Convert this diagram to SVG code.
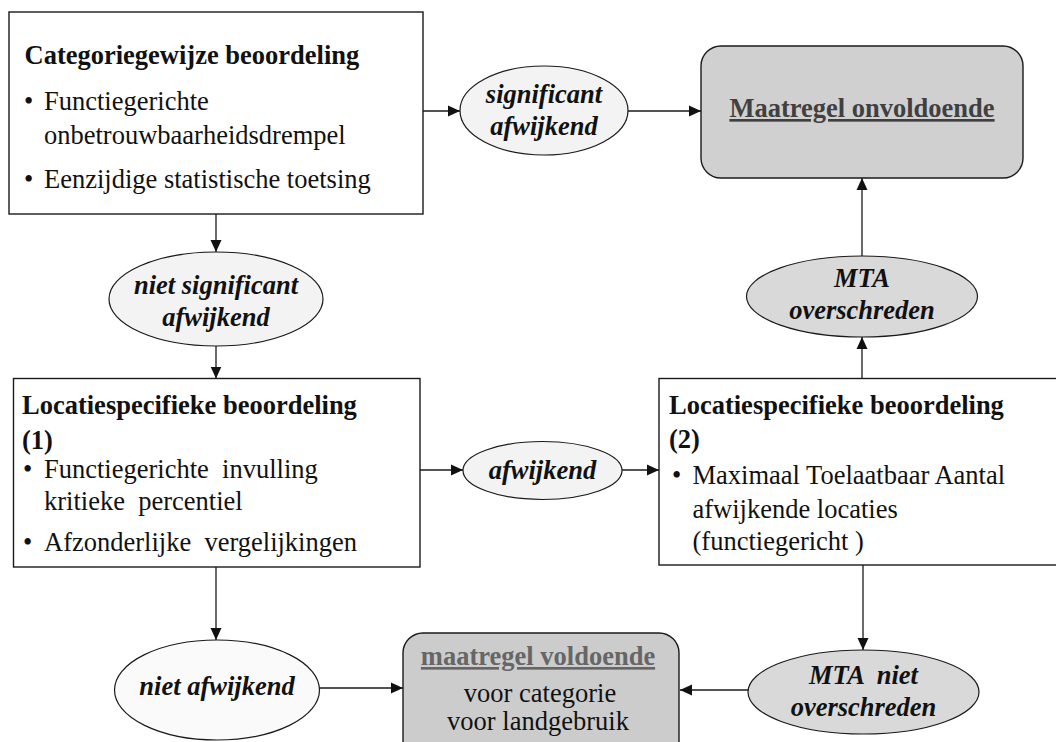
<svg xmlns="http://www.w3.org/2000/svg" width="1056" height="742" viewBox="0 0 1056 742">
<style>
.box{fill:#fff;stroke:#1a1a1a;stroke-width:1.4}
.gbox{fill:#d0d0d0;stroke:#1a1a1a;stroke-width:1.4}
.ell{fill:#f3f3f3;stroke:#1a1a1a;stroke-width:1.2}
.gell{fill:#d9d9d9;stroke:#1a1a1a;stroke-width:1.2}
.t{font-family:'Liberation Serif','Times New Roman',serif;font-size:26.5px;fill:#111}
.b{font-weight:bold}
.bi{font-weight:bold;font-style:italic}
.c{text-anchor:middle}
.u{text-decoration:underline}
.con{stroke:#1a1a1a;stroke-width:1.3;fill:none;marker-end:url(#ah)}
</style>
<defs>
<marker id="ah" markerUnits="userSpaceOnUse" markerWidth="13" markerHeight="12" refX="12" refY="6" orient="auto">
<path d="M0,0.5 L12,6 L0,11.5 Z" fill="#111"/>
</marker>
</defs>
<rect width="1056" height="742" fill="#fff"/>
<g id="connectors">
<line class="con" x1="423" y1="111" x2="460" y2="111"/>
<line class="con" x1="628" y1="111" x2="701" y2="111"/>
<line class="con" x1="216" y1="214" x2="216" y2="252"/>
<line class="con" x1="216" y1="346" x2="216" y2="378.5"/>
<line class="con" x1="420" y1="470" x2="463" y2="470"/>
<line class="con" x1="622" y1="470" x2="659" y2="470"/>
<line class="con" x1="862" y1="378.5" x2="862" y2="337"/>
<line class="con" x1="862" y1="256" x2="862" y2="178"/>
<line class="con" x1="863" y1="565" x2="863" y2="650"/>
<line class="con" x1="748" y1="690" x2="680" y2="690"/>
<line class="con" x1="216" y1="567" x2="216" y2="640"/>
<line class="con" x1="319" y1="688" x2="403" y2="688"/>
</g>
<g id="n-categorie">
<rect class="box" x="9" y="12" width="414" height="202"/>
<text class="t b" x="24.5" y="64">Categoriegewijze beoordeling</text>
<text class="t" x="24" y="110">•</text>
<text class="t" x="44" y="110">Functiegerichte</text>
<text class="t" x="44" y="144">onbetrouwbaarheidsdrempel</text>
<text class="t" x="24" y="188">•</text>
<text class="t" x="44" y="188">Eenzijdige statistische toetsing</text>
</g>
<g id="n-significant">
<ellipse class="ell" cx="544" cy="110.5" rx="84" ry="44.5"/>
<text class="t bi c" x="544" y="103">significant</text>
<text class="t bi c" x="544" y="135">afwijkend</text>
</g>
<g id="n-onvoldoende">
<rect class="gbox" x="701" y="46" width="322" height="132" rx="20" ry="20"/>
<text class="t b c u" x="862" y="117" style="fill:#404040">Maatregel onvoldoende</text>
</g>
<g id="n-nietsignificant">
<ellipse class="ell" cx="216" cy="299" rx="107" ry="47"/>
<text class="t bi c" x="216" y="294">niet significant</text>
<text class="t bi c" x="216" y="326">afwijkend</text>
</g>
<g id="n-mta">
<ellipse class="gell" cx="862" cy="296.5" rx="115.5" ry="40.5"/>
<text class="t bi c" x="862" y="287">MTA</text>
<text class="t bi c" x="862" y="319">overschreden</text>
</g>
<g id="n-locatie1">
<rect class="box" x="13.5" y="378.5" width="406.5" height="188.5"/>
<text class="t b" x="22" y="414">Locatiespecifieke beoordeling</text>
<text class="t b" x="22" y="448.5">(1)</text>
<text class="t" x="23" y="478">•</text>
<text class="t" x="44" y="478" xml:space="preserve">Functiegerichte  invulling</text>
<text class="t" x="44" y="510" xml:space="preserve">kritieke  percentiel</text>
<text class="t" x="23" y="551">•</text>
<text class="t" x="44" y="551" xml:space="preserve">Afzonderlijke  vergelijkingen</text>
</g>
<g id="n-afwijkend">
<ellipse class="ell" cx="542.5" cy="470.5" rx="79.5" ry="29"/>
<text class="t bi c" x="542.5" y="479">afwijkend</text>
</g>
<g id="n-locatie2">
<rect class="box" x="659" y="378.5" width="410" height="186.5"/>
<text class="t b" x="669" y="414">Locatiespecifieke beoordeling</text>
<text class="t b" x="669" y="448">(2)</text>
<text class="t" x="672" y="484">•</text>
<text class="t" x="692.5" y="484">Maximaal Toelaatbaar Aantal</text>
<text class="t" x="692.5" y="518">afwijkende locaties</text>
<text class="t" x="692.5" y="549.5">(functiegericht )</text>
</g>
<g id="n-mtaniet">
<ellipse class="gell" cx="863.5" cy="692" rx="115.5" ry="42"/>
<text class="t bi c" x="863.5" y="684" xml:space="preserve">MTA  niet</text>
<text class="t bi c" x="863.5" y="716">overschreden</text>
</g>
<g id="n-nietafwijkend">
<ellipse class="ell" cx="217" cy="690" rx="102.5" ry="50" style="fill:#fafafa"/>
<text class="t bi c" x="217" y="695">niet afwijkend</text>
</g>
<g id="n-voldoende">
<rect class="gbox" x="403" y="633" width="276" height="130" rx="20" ry="20" style="fill:#cccccc"/>
<text class="t b c u" x="538" y="665" style="fill:#666666">maatregel voldoende</text>
<text class="t c" x="540" y="702">voor categorie</text>
<text class="t c" x="538" y="730">voor landgebruik</text>
</g>
</svg>
